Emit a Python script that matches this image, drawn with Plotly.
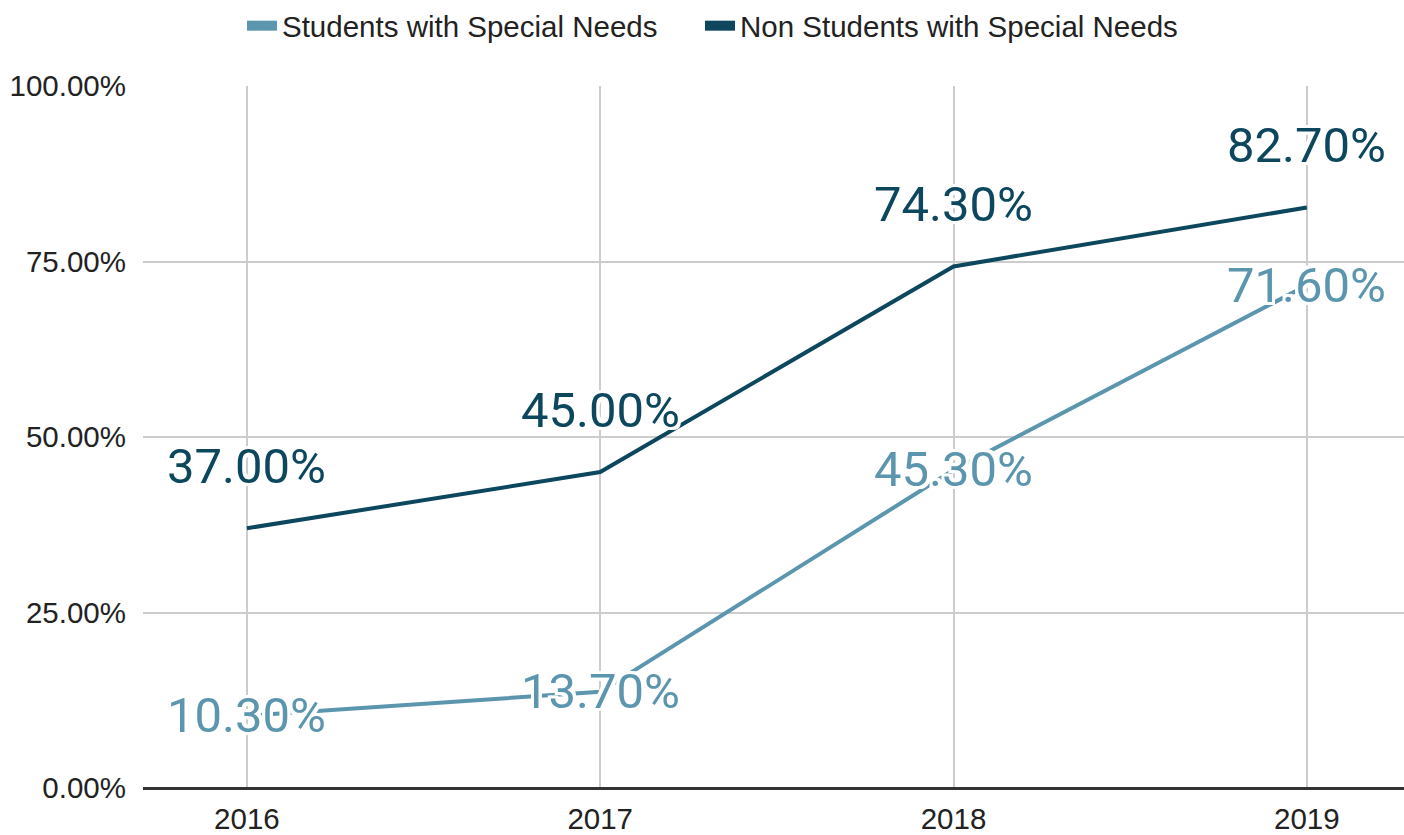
import plotly.graph_objects as go

years = ["2016", "2017", "2018", "2019"]
sen_students = [10.3, 13.7, 45.3, 71.6]
non_sen_students = [37.0, 45.0, 74.3, 82.7]
series_names = ["Students with Special Needs", "Non Students with Special Needs"]
y_ticks = [0, 25, 50, 75, 100]
y_tick_labels = ["0.00%", "25.00%", "50.00%", "75.00%", "100.00%"]

LIGHT = "#5b95ae"
DARK = "#0d475e"
HALO = ("3px 3px 0 white, -3px -3px 0 white, 3px -3px 0 white, -3px 3px 0 white, "
        "3px 0 0 white, -3px 0 0 white, 0 3px 0 white, 0 -3px 0 white")

fig = go.Figure()

# plotted lines (legend handled by swatch traces below)
for vals, color in ((sen_students, LIGHT), (non_sen_students, DARK)):
    fig.add_trace(go.Scatter(
        x=years, y=vals, mode="lines",
        line=dict(color=color, width=4),
        showlegend=False, hoverinfo="skip",
    ))

# thick legend swatches, one legend per series so each can be placed
for name, color, leg in zip(series_names, (LIGHT, DARK), ("legend", "legend2")):
    fig.add_trace(go.Scatter(
        x=[None], y=[None], mode="lines", name=name, legend=leg,
        line=dict(color=color, width=10),
    ))

# value labels: light series centred on the point, dark series above it
# (category axis: annotations are placed by category index)
annotations = []
for vals, color, shift in ((sen_students, LIGHT, 0), (non_sen_students, DARK, 62)):
    for i, v in enumerate(vals):
        annotations.append(dict(
            x=i, y=v, xref="x", yref="y", text=f"{v:.2f}%",
            showarrow=False, yshift=shift, xanchor="center", yanchor="middle",
            font=dict(family="Roboto", size=49, color=color, shadow=HALO),
        ))

legend_style = dict(
    orientation="h", xanchor="left", y=1.0, yref="container", yanchor="top",
    font=dict(size=29.5, color="#222222"), itemwidth=30,
)

fig.update_layout(
    width=1404, height=835,
    margin=dict(l=143, r=0, t=86, b=47),
    paper_bgcolor="white", plot_bgcolor="white",
    font=dict(family="Liberation Sans, Arial", size=29.5, color="#222222"),
    showlegend=True,
    legend=dict(x=0.0785, **legend_style),
    legend2=dict(x=0.4417, **legend_style),
    annotations=annotations,
)

fig.update_xaxes(
    type="category", range=[-0.294, 3.275], automargin=False,
    showgrid=True, gridcolor="#cccccc", gridwidth=2,
    showline=False, zeroline=False, ticks="", ticklabelstandoff=10,
    tickfont=dict(size=29.5, color="#222222"),
)
fig.update_yaxes(
    range=[0, 100], tickvals=y_ticks, ticktext=y_tick_labels, automargin=False,
    showgrid=True, gridcolor="#cccccc", gridwidth=2,
    zeroline=True, zerolinecolor="#333333", zerolinewidth=3,
    showline=False, ticks="", ticklabelstandoff=16,
    tickfont=dict(size=29.5, color="#222222"),
)

fig.write_html("out.html")
